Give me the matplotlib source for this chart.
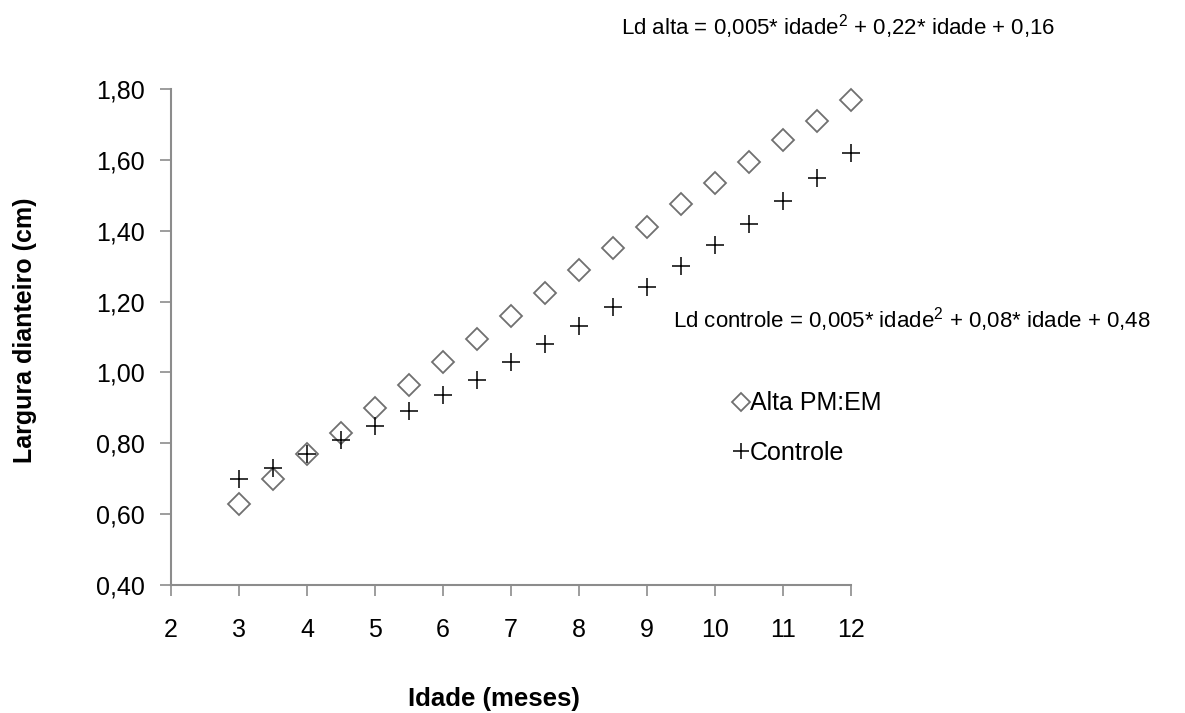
import numpy as np
import matplotlib
matplotlib.use('Agg')
import matplotlib.pyplot as plt

plt.rcParams['font.family'] = ['Liberation Sans', 'DejaVu Sans']
plt.rcParams['mathtext.fontset'] = 'custom'
plt.rcParams['mathtext.rm'] = 'Liberation Sans'
plt.rcParams['mathtext.default'] = 'regular'

# dados
idade = [3, 3.5, 4, 4.5, 5, 5.5, 6, 6.5, 7, 7.5, 8, 8.5, 9, 9.5, 10, 10.5, 11, 11.5, 12]
alta = [0.63, 0.70, 0.77, 0.83, 0.90, 0.965, 1.03, 1.095, 1.16, 1.225, 1.29, 1.35,
        1.41, 1.475, 1.535, 1.595, 1.655, 1.71, 1.77]
controle = [0.70, 0.73, 0.77, 0.81, 0.85, 0.89, 0.935, 0.98, 1.03, 1.08, 1.13, 1.185,
            1.24, 1.30, 1.36, 1.42, 1.485, 1.55, 1.62]
xticks = list(range(2, 13))
yticks = [0.40, 0.60, 0.80, 1.00, 1.20, 1.40, 1.60, 1.80]

fig = plt.figure(figsize=(11.85, 7.13), dpi=100)
ax = fig.add_axes([171/1185, 1-585/713, 680/1185, 496/713])

ax.plot(idade, alta, linestyle='none', marker='D', markersize=11, markerfacecolor='white',
        markeredgecolor='#707070', markeredgewidth=1.3, label='Alta PM:EM', clip_on=False)
ax.plot(idade, controle, linestyle='none', marker='+', markersize=13, color='black',
        markeredgewidth=1.1, label='Controle', clip_on=False)

ax.set_xlim(2, 12)
ax.set_ylim(0.40, 1.80)
ax.set_xticks(xticks)
ax.set_yticks(yticks)
ax.set_yticklabels([f'{v:.2f}'.replace('.', ',') for v in yticks])
ax.tick_params(labelsize=18, length=8, width=1.2, color='#8c8c8c', direction='out')
ax.tick_params(axis='x', pad=16)
ax.tick_params(axis='y', pad=11)
for s in ['top', 'right']:
    ax.spines[s].set_visible(False)
for s in ['left', 'bottom']:
    ax.spines[s].set_color('#8c8c8c')
    ax.spines[s].set_linewidth(1.5)

fig.text(25/1185, 1-330/713, 'Largura dianteiro (cm)', rotation=90, ha='center', va='center',
         fontsize=18, fontweight='bold')
fig.text(494/1185, 1-699/713, 'Idade (meses)', ha='center', va='center',
         fontsize=18.5, fontweight='bold')

fig.text(621/1185, 1-27/713, 'Ld alta = 0,005* idade$^{2}$ + 0,22* idade + 0,16',
         ha='left', va='center', fontsize=16)
fig.text(673/1185, 1-320/713, 'Ld controle = 0,005* idade$^{2}$ + 0,08* idade + 0,48',
         ha='left', va='center', fontsize=16)

leg = ax.legend(loc='center left', bbox_to_anchor=(722/1185, 1-428/713),
                bbox_transform=fig.transFigure, frameon=False, fontsize=18, borderpad=0,
                handlelength=0.5, handletextpad=0.11, labelspacing=1.0, markerscale=0.85)

fig.savefig('out.png', dpi=100)
